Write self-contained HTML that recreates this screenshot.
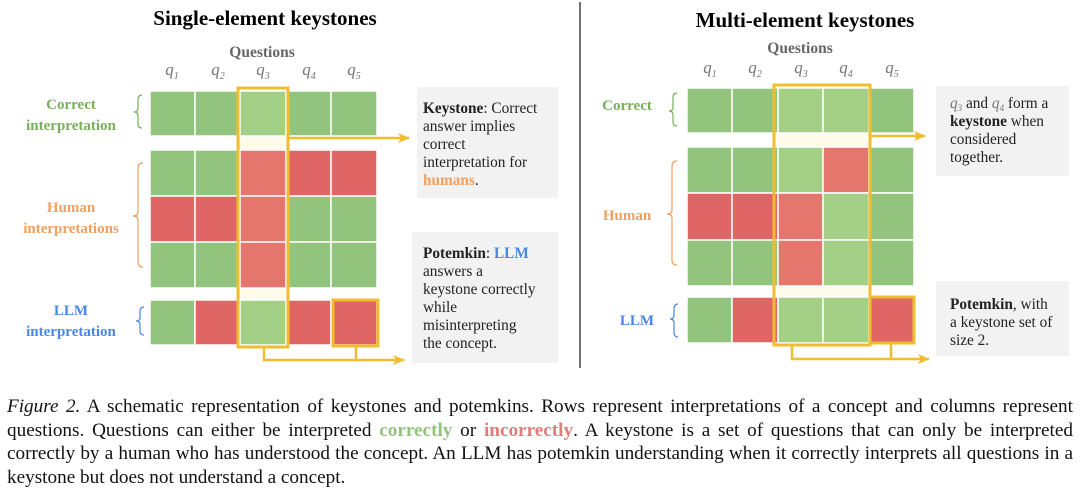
<!DOCTYPE html>
<html><head><meta charset="utf-8"><style>
body{margin:0;width:1080px;height:497px;background:#fff;overflow:hidden;position:relative}
svg{position:absolute;left:0;top:0}
.cap{position:absolute;left:7px;top:395px;width:1066px;font-family:"Liberation Serif",serif;font-size:19.2px;line-height:23.5px;color:#111}
.cap div{text-align:justify;text-align-last:justify;white-space:nowrap}
.cap div.l{text-align-last:left}
</style></head><body>
<svg width="1080" height="390" xmlns="http://www.w3.org/2000/svg" font-family="Liberation Serif, serif">
<defs>
<marker id="ah" markerWidth="12" markerHeight="10" refX="11" refY="5" orient="auto" markerUnits="userSpaceOnUse"><path d="M0,0 L12,5 L0,10 L3,5 Z" fill="#f0bd2e"/></marker>
</defs>
<line x1="580" y1="2" x2="580" y2="368" stroke="#444" stroke-width="1.5"/>
<text x="265" y="25" text-anchor="middle" font-weight="bold" font-size="21">Single-element keystones</text>
<text x="805" y="27" text-anchor="middle" font-weight="bold" font-size="21">Multi-element keystones</text>
<text x="262" y="57" text-anchor="middle" font-weight="bold" font-size="15.5" fill="#666">Questions</text>
<text x="800" y="53" text-anchor="middle" font-weight="bold" font-size="15.5" fill="#666">Questions</text>
<g font-style="italic" font-size="17" fill="#777" text-anchor="middle">
<text x="172" y="75">q<tspan font-size="10" dy="4">1</tspan></text>
<text x="218" y="75">q<tspan font-size="10" dy="4">2</tspan></text>
<text x="263" y="75">q<tspan font-size="10" dy="4">3</tspan></text>
<text x="309" y="75">q<tspan font-size="10" dy="4">4</tspan></text>
<text x="354" y="75">q<tspan font-size="10" dy="4">5</tspan></text>
<text x="710" y="73">q<tspan font-size="10" dy="4">1</tspan></text>
<text x="755" y="73">q<tspan font-size="10" dy="4">2</tspan></text>
<text x="801" y="73">q<tspan font-size="10" dy="4">3</tspan></text>
<text x="846" y="73">q<tspan font-size="10" dy="4">4</tspan></text>
<text x="892" y="73">q<tspan font-size="10" dy="4">5</tspan></text>
</g>
<g font-weight="bold" font-size="15" text-anchor="middle">
<text x="71" y="109" fill="#76b05a">Correct</text>
<text x="71" y="130" fill="#76b05a">interpretation</text>
<text x="71" y="212" fill="#f0a060">Human</text>
<text x="71" y="233" fill="#f0a060">interpretations</text>
<text x="71" y="315" fill="#4a86e8">LLM</text>
<text x="71" y="336" fill="#4a86e8">interpretation</text>
<text x="627" y="110" fill="#76b05a">Correct</text>
<text x="627" y="220" fill="#f0a060">Human</text>
<text x="637" y="325" fill="#4a86e8">LLM</text>
</g>
<g fill="none" stroke-width="1.2">
<path d="M142,95 Q138,95 138,100 L138,108 Q138,112 134,112 Q138,112 138,116 L138,124 Q138,128 142,128" stroke="#76b05a"/>
<path d="M143,163 Q138,163 138,169 L138,212 Q138,216 133,216 Q138,216 138,220 L138,262 Q138,267 143,267" stroke="#f0a060"/>
<path d="M144,307 Q140,307 140,312 L140,318 Q140,321 136,321 Q140,321 140,324 L140,331 Q140,335 144,335" stroke="#4a86e8"/>
<path d="M677,93 Q673,93 673,98 L673,107 Q673,111 669,111 Q673,111 673,115 L673,122 Q673,126 677,126" stroke="#76b05a"/>
<path d="M677,161 Q672,161 672,167 L672,210 Q672,214 667,214 Q672,214 672,218 L672,260 Q672,265 677,265" stroke="#f0a060"/>
<path d="M678,304 Q674,304 674,309 L674,315 Q674,319 670,319 Q674,319 674,323 L674,332 Q674,337 678,337" stroke="#4a86e8"/>
</g>
<g stroke="#fff" stroke-width="1.5">
<rect x="150" y="91" width="45" height="45" fill="#93c47d"/><rect x="195" y="91" width="45" height="45" fill="#93c47d"/><rect x="240" y="91" width="46" height="45" fill="#a4cf86"/><rect x="286" y="91" width="45" height="45" fill="#93c47d"/><rect x="331" y="91" width="46" height="45" fill="#93c47d"/>
<rect x="150" y="150" width="45" height="46" fill="#93c47d"/><rect x="195" y="150" width="45" height="46" fill="#93c47d"/><rect x="240" y="150" width="46" height="46" fill="#e5766d"/><rect x="286" y="150" width="45" height="46" fill="#e06666"/><rect x="331" y="150" width="46" height="46" fill="#e06666"/>
<rect x="150" y="196" width="45" height="46" fill="#e06666"/><rect x="195" y="196" width="45" height="46" fill="#e06666"/><rect x="240" y="196" width="46" height="46" fill="#e5766d"/><rect x="286" y="196" width="45" height="46" fill="#93c47d"/><rect x="331" y="196" width="46" height="46" fill="#93c47d"/>
<rect x="150" y="242" width="45" height="46" fill="#93c47d"/><rect x="195" y="242" width="45" height="46" fill="#93c47d"/><rect x="240" y="242" width="46" height="46" fill="#e5766d"/><rect x="286" y="242" width="45" height="46" fill="#93c47d"/><rect x="331" y="242" width="46" height="46" fill="#93c47d"/>
<rect x="150" y="300" width="45" height="45" fill="#93c47d"/><rect x="195" y="300" width="45" height="45" fill="#e06666"/><rect x="240" y="300" width="46" height="45" fill="#a4cf86"/><rect x="286" y="300" width="45" height="45" fill="#e06666"/><rect x="331" y="300" width="46" height="45" fill="#e06666"/>
<rect x="687" y="88" width="45" height="45" fill="#93c47d"/><rect x="732" y="88" width="46" height="45" fill="#93c47d"/><rect x="778" y="88" width="45" height="45" fill="#a4cf86"/><rect x="823" y="88" width="46" height="45" fill="#a4cf86"/><rect x="869" y="88" width="45" height="45" fill="#93c47d"/>
<rect x="687" y="147" width="45" height="46" fill="#93c47d"/><rect x="732" y="147" width="46" height="46" fill="#93c47d"/><rect x="778" y="147" width="45" height="46" fill="#a4cf86"/><rect x="823" y="147" width="46" height="46" fill="#e5766d"/><rect x="869" y="147" width="45" height="46" fill="#93c47d"/>
<rect x="687" y="193" width="45" height="47" fill="#e06666"/><rect x="732" y="193" width="46" height="47" fill="#e06666"/><rect x="778" y="193" width="45" height="47" fill="#e5766d"/><rect x="823" y="193" width="46" height="47" fill="#a4cf86"/><rect x="869" y="193" width="45" height="47" fill="#93c47d"/>
<rect x="687" y="240" width="45" height="46" fill="#93c47d"/><rect x="732" y="240" width="46" height="46" fill="#93c47d"/><rect x="778" y="240" width="45" height="46" fill="#e5766d"/><rect x="823" y="240" width="46" height="46" fill="#a4cf86"/><rect x="869" y="240" width="45" height="46" fill="#93c47d"/>
<rect x="687" y="297" width="45" height="46" fill="#93c47d"/><rect x="732" y="297" width="46" height="46" fill="#e06666"/><rect x="778" y="297" width="45" height="46" fill="#a4cf86"/><rect x="823" y="297" width="46" height="46" fill="#a4cf86"/><rect x="869" y="297" width="45" height="46" fill="#e06666"/>
</g>
<g fill="#fffbea">
<rect x="239" y="137" width="48" height="12"/><rect x="239" y="289" width="48" height="10"/>
<rect x="775" y="134" width="93" height="12"/><rect x="775" y="287" width="93" height="9"/>
</g>
<g fill="none" stroke="#f0bd2e" stroke-width="3">
<rect x="238" y="88" width="50" height="259"/>
<rect x="333" y="300" width="45" height="46"/>
<line x1="288" y1="138" x2="409" y2="138" marker-end="url(#ah)" stroke-width="2.5"/>
<path d="M264,347 L264,360 L404,360" marker-end="url(#ah)" stroke-width="2.5"/>
<line x1="356" y1="346" x2="356" y2="360" stroke-width="2.5"/>
<rect x="774" y="85" width="96" height="260"/>
<rect x="870" y="297" width="44" height="46"/>
<line x1="870" y1="136" x2="925" y2="136" marker-end="url(#ah)" stroke-width="2.5"/>
<path d="M792,345 L792,359 L929,359" marker-end="url(#ah)" stroke-width="2.5"/>
<line x1="891" y1="343" x2="891" y2="359" stroke-width="2.5"/>
</g>
<rect x="417" y="87" width="141" height="111" fill="#f2f2f2"/>
<rect x="412" y="232" width="146" height="131" fill="#f2f2f2"/>
<rect x="936" y="86" width="133" height="90" fill="#f2f2f2"/>
<rect x="936" y="281" width="133" height="75" fill="#f2f2f2"/>
<g font-size="15.3" fill="#222">
<text x="423" y="113"><tspan font-weight="bold">Keystone</tspan>: Correct</text>
<text x="423" y="131">answer implies</text>
<text x="423" y="149">correct</text>
<text x="423" y="167">interpretation for</text>
<text x="423" y="185"><tspan font-weight="bold" fill="#f0a060">humans</tspan>.</text>
<text x="423" y="258"><tspan font-weight="bold">Potemkin</tspan>: <tspan font-weight="bold" fill="#4a86e8">LLM</tspan></text>
<text x="423" y="276">answers a</text>
<text x="423" y="294">keystone correctly</text>
<text x="423" y="312">while</text>
<text x="423" y="330">misinterpreting</text>
<text x="423" y="348">the concept.</text>
<text x="950" y="108"><tspan font-style="italic" fill="#777">q<tspan font-size="9" dy="3">3</tspan></tspan><tspan dy="-3"> and </tspan><tspan font-style="italic" fill="#777">q<tspan font-size="9" dy="3">4</tspan></tspan><tspan dy="-3"> form a</tspan></text>
<text x="950" y="126"><tspan font-weight="bold">keystone</tspan> when</text>
<text x="950" y="144">considered</text>
<text x="950" y="162">together.</text>
<text x="950" y="309"><tspan font-weight="bold">Potemkin</tspan>, with</text>
<text x="950" y="327">a keystone set of</text>
<text x="950" y="345">size 2.</text>
</g>
</svg>
<div class="cap">
<div><i>Figure 2.</i> A schematic representation of keystones and potemkins. Rows represent interpretations of a concept and columns represent</div>
<div>questions. Questions can either be interpreted <b style="color:#93c47d">correctly</b> or <b style="color:#e57a7a">incorrectly</b>. A keystone is a set of questions that can only be interpreted</div>
<div>correctly by a human who has understood the concept. An LLM has potemkin understanding when it correctly interprets all questions in a</div>
<div class="l">keystone but does not understand a concept.</div>
</div>
</body></html>
